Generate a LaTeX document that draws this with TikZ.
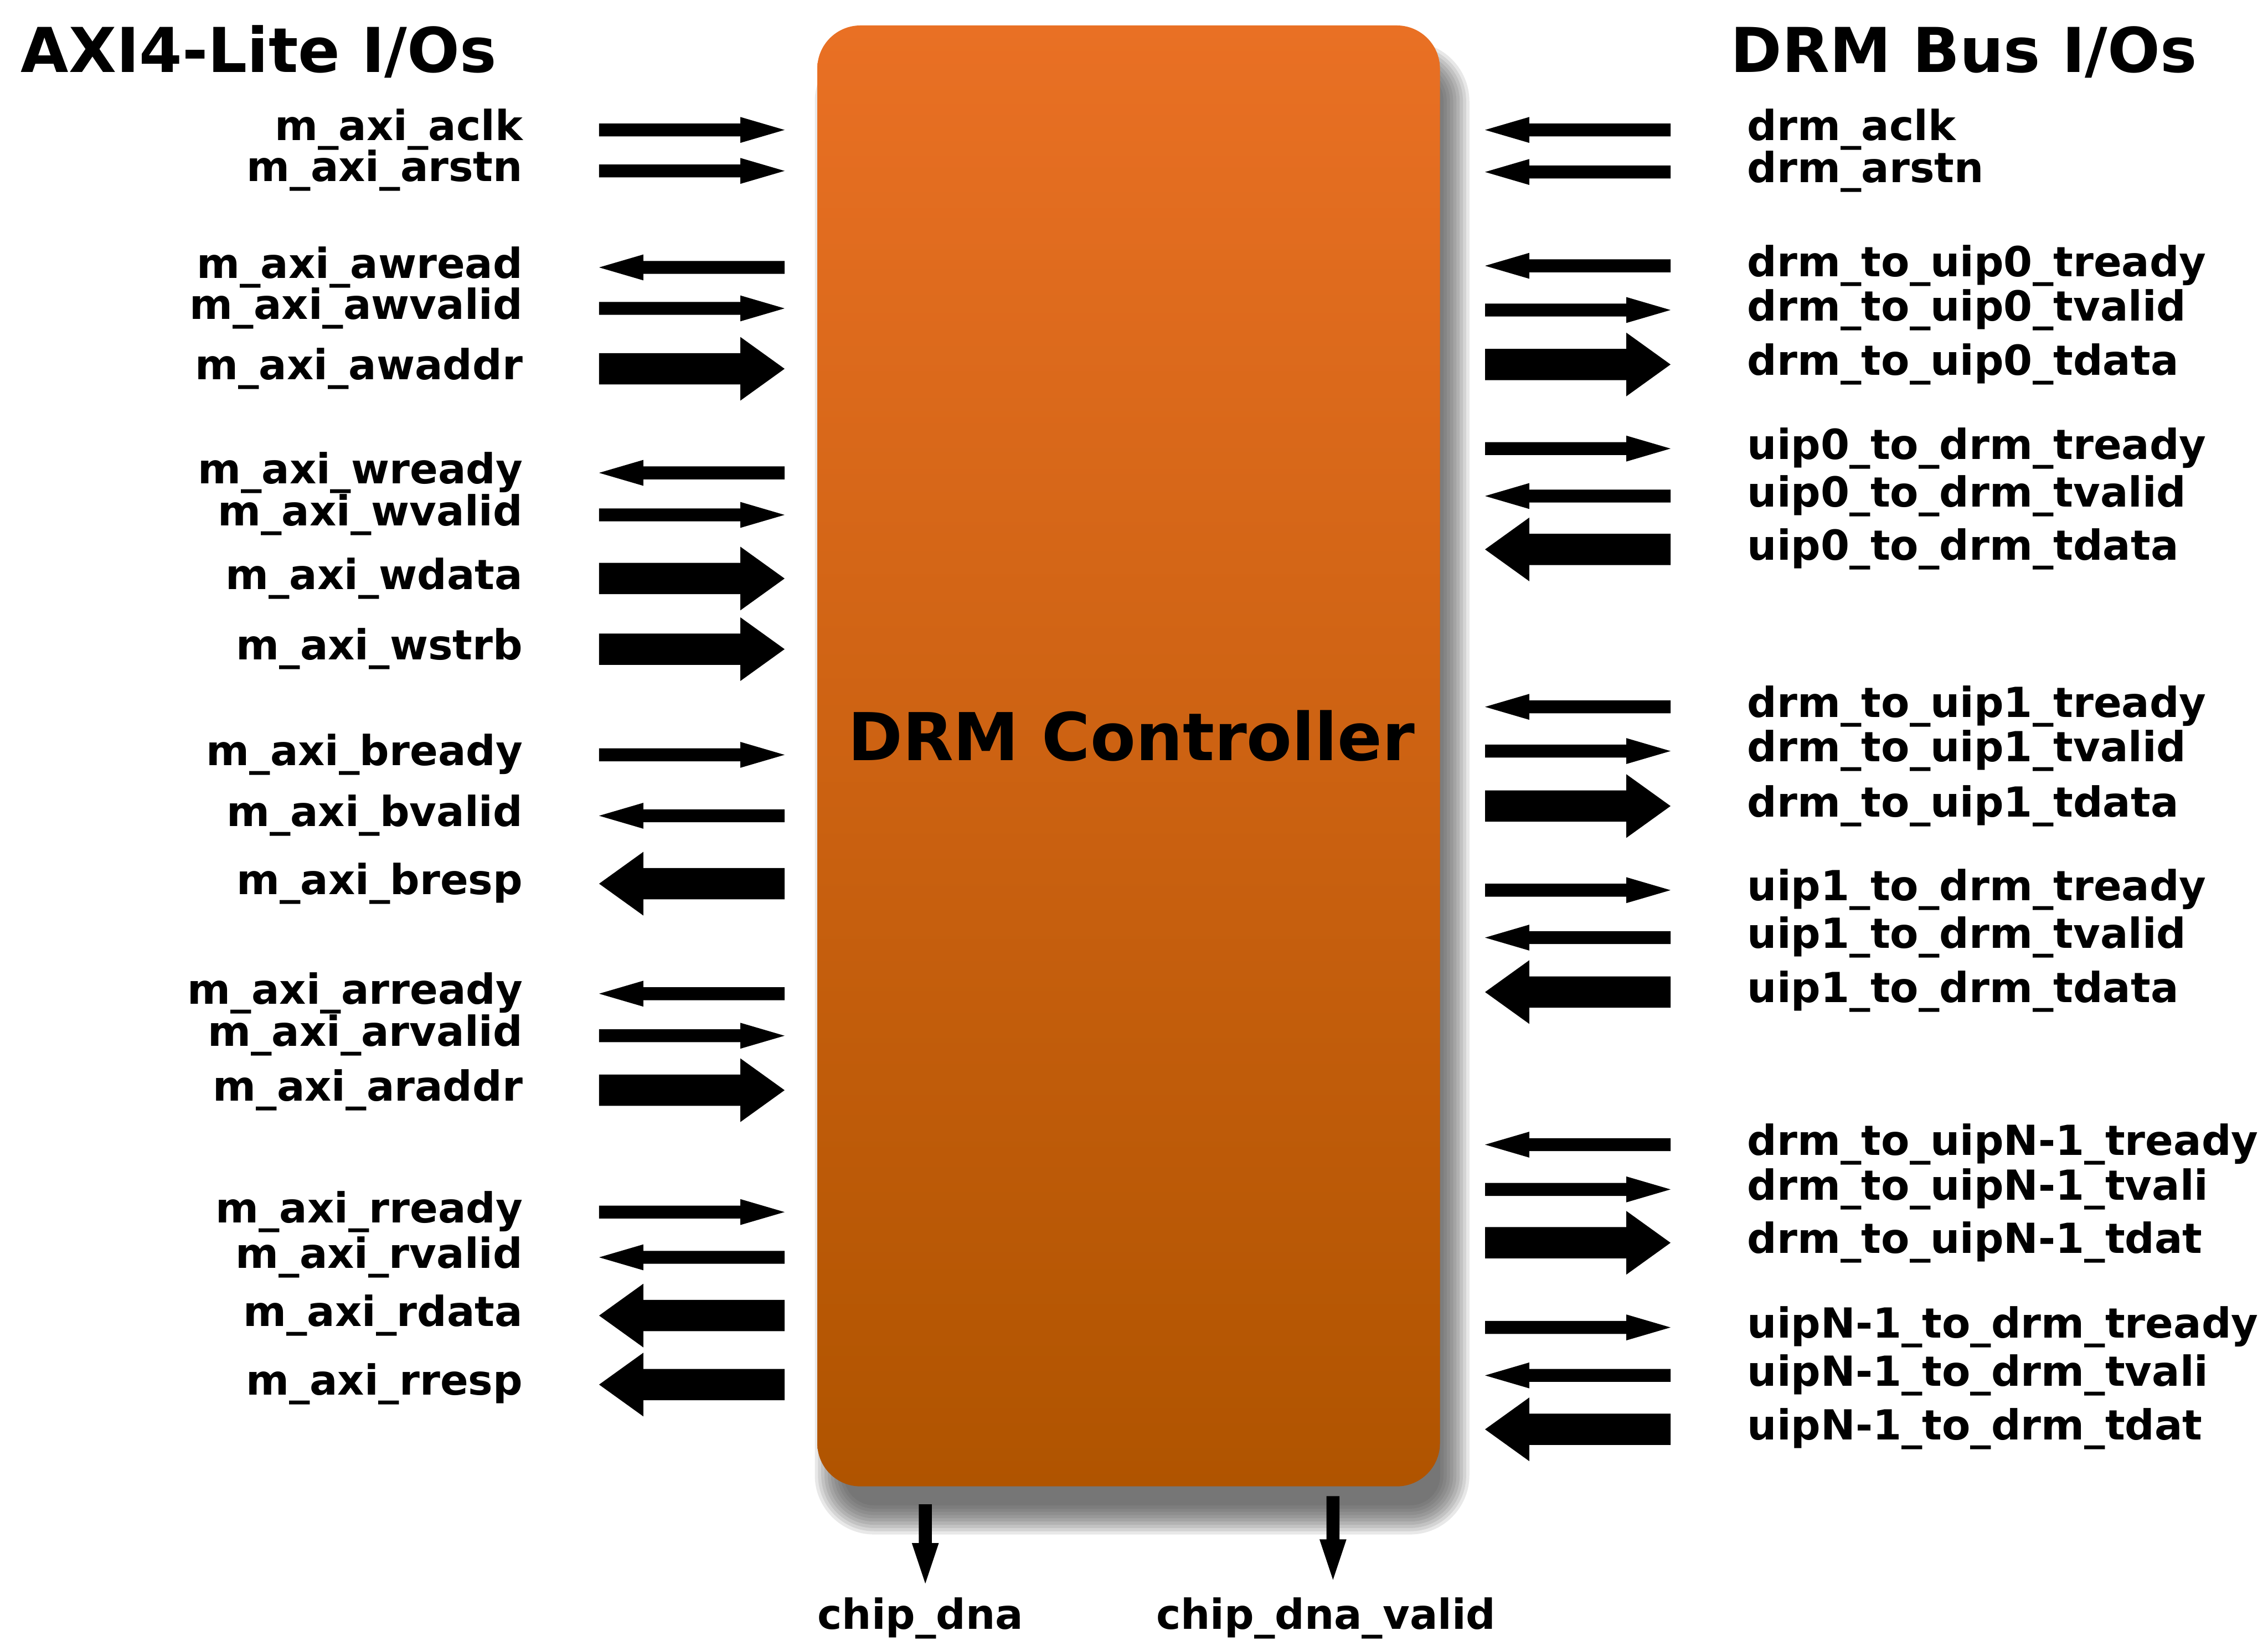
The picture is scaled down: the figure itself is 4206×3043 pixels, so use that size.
\documentclass[tikz,border=0pt]{standalone}
\usepackage{fontspec}
\setmainfont{DejaVu Sans}

\definecolor{boxtop}{RGB}{233,112,36}
\definecolor{boxbot}{RGB}{176,84,0}
\definecolor{shadowgray}{RGB}{70,70,70}

\tikzset{
  sig/.style={font=\bfseries\fontsize{21.85pt}{26pt}\selectfont, inner sep=0pt},
  lsig/.style={sig, anchor=mid east},
  rsig/.style={sig, anchor=mid west},
  bsig/.style={sig, anchor=mid},
  heading/.style={font=\bfseries\fontsize{32.6pt}{38pt}\selectfont, inner sep=0pt, anchor=base west},
  blockname/.style={font=\bfseries\fontsize{34.8pt}{40pt}\selectfont, inner sep=0pt, anchor=base},
}

% horizontal block arrow: tail x, tip x, y, half shaft, half head
\newcommand\sigarrow[5]{%
  \pgfmathsetmacro\hx{#2-82*((#2>#1)-(#2<#1))}%
  \fill[black] (#1,#3-#4) -- (\hx,#3-#4) -- (\hx,#3-#5) -- (#2,#3)
    -- (\hx,#3+#5) -- (\hx,#3+#4) -- (#1,#3+#4) -- cycle;}

% vertical block arrow pointing down: x, top y, tip y
\newcommand\downarrowblk[3]{%
  \fill[black] (#1-12,#2) -- (#1+12,#2) -- (#1+12,#3-75) -- (#1+25,#3-75)
    -- (#1,#3) -- (#1-25,#3-75) -- (#1-12,#3-75) -- cycle;}

\begin{document}
\begin{tikzpicture}[x=0.01cm,y=-0.01cm]
\useasboundingbox (0,0) rectangle (4206,3043);
\fill[white] (0,0) rectangle (4206,3043);

% soft drop shadow of the controller block
\foreach \s in {-24,-18,...,30} {
  \pgfmathsetmacro\r{(80+\s)/100}
  \fill[shadowgray, opacity=0.12, rounded corners=\r cm]
    (1541-\s,108-\s) rectangle (2695+\s,2816+\s);
}

% controller block
\node[rounded corners=0.8cm, top color=boxtop, bottom color=boxbot,
      minimum width=11.54cm, minimum height=27.08cm, inner sep=0pt, outer sep=0pt]
      (ctrl) at (2093,1402) {};
\node[blockname] (ctrlname) at (2098,1410) {DRM Controller};

% headings
\node[heading] (axihead) at (38,134) {AXI4-Lite I/Os};
\node[heading] (drmhead) at (3209,134) {DRM Bus I/Os};

% AXI4-Lite side: name / y / direction (1 = into block) / wide bus
\foreach \name/\y/\s/\t [count=\i] in {
  m\_axi\_aclk/241/1/0,
  m\_axi\_arstn/317/1/0,
  m\_axi\_awread/496/-1/0,
  m\_axi\_awvalid/572/1/0,
  m\_axi\_awaddr/684/1/1,
  m\_axi\_wready/877/-1/0,
  m\_axi\_wvalid/955/1/0,
  m\_axi\_wdata/1073/1/1,
  m\_axi\_wstrb/1204/1/1,
  m\_axi\_bready/1400/1/0,
  m\_axi\_bvalid/1513/-1/0,
  m\_axi\_bresp/1639/-1/1,
  m\_axi\_arready/1843/-1/0,
  m\_axi\_arvalid/1921/1/0,
  m\_axi\_araddr/2022/1/1,
  m\_axi\_rready/2248/1/0,
  m\_axi\_rvalid/2332/-1/0,
  m\_axi\_rdata/2440/-1/1,
  m\_axi\_rresp/2568/-1/1} {
  \pgfmathsetmacro\ta{1283-172*\s}
  \pgfmathsetmacro\tb{1283+172*\s}
  \pgfmathsetmacro\hs{12+17*\t}
  \pgfmathsetmacro\hh{24+35*\t}
  \sigarrow{\ta}{\tb}{\y}{\hs}{\hh}
  \node[lsig] (axi\i) at (970,\y+10) {\name};
}

% DRM bus side: name / y / direction (1 = out of block) / wide bus
\foreach \name/\y/\s/\t [count=\i] in {
  drm\_aclk/241/-1/0,
  drm\_arstn/319/-1/0,
  drm\_to\_uip0\_tready/493/-1/0,
  drm\_to\_uip0\_tvalid/575/1/0,
  drm\_to\_uip0\_tdata/676/1/1,
  uip0\_to\_drm\_tready/832/1/0,
  uip0\_to\_drm\_tvalid/920/-1/0,
  uip0\_to\_drm\_tdata/1019/-1/1,
  drm\_to\_uip1\_tready/1311/-1/0,
  drm\_to\_uip1\_tvalid/1393/1/0,
  drm\_to\_uip1\_tdata/1495/1/1,
  uip1\_to\_drm\_tready/1651/1/0,
  uip1\_to\_drm\_tvalid/1739/-1/0,
  uip1\_to\_drm\_tdata/1840/-1/1,
  drm\_to\_uipN-1\_tready/2123/-1/0,
  drm\_to\_uipN-1\_tvali/2206/1/0,
  drm\_to\_uipN-1\_tdat/2305/1/1,
  uipN-1\_to\_drm\_tready/2462/1/0,
  uipN-1\_to\_drm\_tvali/2551/-1/0,
  uipN-1\_to\_drm\_tdat/2651/-1/1} {
  \pgfmathsetmacro\ta{2926-172*\s}
  \pgfmathsetmacro\tb{2926+172*\s}
  \pgfmathsetmacro\hs{12+17*\t}
  \pgfmathsetmacro\hh{24+35*\t}
  \sigarrow{\ta}{\tb}{\y}{\hs}{\hh}
  \node[rsig] (drm\i) at (3240,\y+10) {\name};
}

% chip DNA outputs
\downarrowblk{1716}{2790}{2937}
\downarrowblk{2472}{2775}{2930}
\node[bsig] (dna) at (1707,3012) {chip\_dna};
\node[bsig] (dnavalid) at (2459,3012) {chip\_dna\_valid};
\end{tikzpicture}
\end{document}
